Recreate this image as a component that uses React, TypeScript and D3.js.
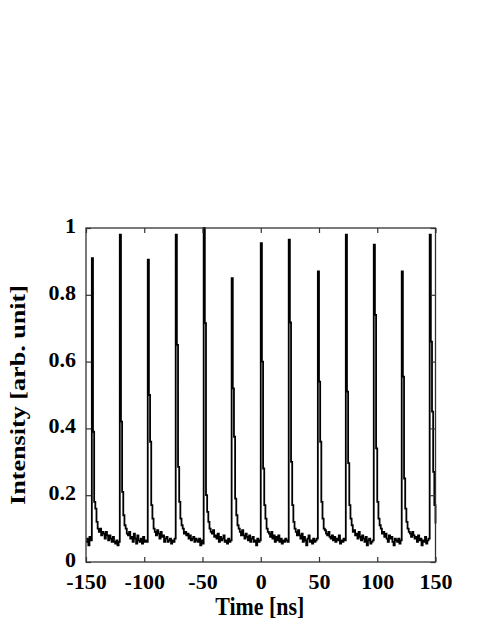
import React, { useEffect, useRef } from "react";
import * as d3 from "d3";

// pulse train (time in ns, intensity in arb. unit)
const xTicks = [-150, -100, -50, 0, 50, 100, 150];
const yTicks = [0, 0.2, 0.4, 0.6, 0.8, 1];

const leadIn = [0.06, 0.07, 0.05, 0.075, 0.065]; // t = -150 .. -146
const peakTimes = [-145, -121, -97, -73, -49, -25, 0, 24, 49, 73, 97, 121, 145];
const peakHeights = [0.91, 0.98, 0.905, 0.98, 1.0, 0.85, 0.955, 0.965, 0.87, 0.98, 0.95, 0.87, 0.98];

// samples after each peak, 1 ns apart, up to the next peak
const decays = [
  [0.39, 0.18, 0.16, 0.12, 0.1, 0.09, 0.1, 0.08, 0.09, 0.085, 0.07, 0.09, 0.08, 0.065, 0.08, 0.07, 0.06, 0.075, 0.06, 0.055, 0.065, 0.05, 0.06],
  [0.42, 0.21, 0.14, 0.11, 0.1, 0.085, 0.08, 0.09, 0.07, 0.075, 0.06, 0.085, 0.07, 0.055, 0.08, 0.065, 0.06, 0.07, 0.055, 0.075, 0.06, 0.065, 0.06],
  [0.5, 0.36, 0.17, 0.13, 0.1, 0.09, 0.08, 0.095, 0.085, 0.07, 0.09, 0.075, 0.08, 0.06, 0.07, 0.075, 0.06, 0.065, 0.07, 0.055, 0.065, 0.06, 0.07],
  [0.65, 0.285, 0.18, 0.13, 0.11, 0.1, 0.085, 0.09, 0.08, 0.085, 0.07, 0.08, 0.065, 0.07, 0.075, 0.06, 0.07, 0.065, 0.06, 0.07, 0.05, 0.065, 0.055],
  [0.715, 0.2, 0.15, 0.12, 0.1, 0.09, 0.085, 0.095, 0.075, 0.08, 0.07, 0.085, 0.06, 0.075, 0.065, 0.07, 0.08, 0.06, 0.065, 0.055, 0.07, 0.06, 0.065],
  [0.52, 0.375, 0.19, 0.14, 0.11, 0.1, 0.09, 0.08, 0.095, 0.08, 0.07, 0.085, 0.075, 0.065, 0.08, 0.06, 0.07, 0.075, 0.06, 0.065, 0.05, 0.07, 0.06, 0.065],
  [0.6, 0.28, 0.17, 0.13, 0.1, 0.09, 0.085, 0.075, 0.09, 0.07, 0.08, 0.06, 0.075, 0.065, 0.08, 0.06, 0.07, 0.055, 0.065, 0.06, 0.07, 0.065, 0.06],
  [0.717, 0.3, 0.17, 0.12, 0.1, 0.09, 0.08, 0.095, 0.08, 0.07, 0.085, 0.06, 0.075, 0.065, 0.05, 0.07, 0.08, 0.06, 0.065, 0.055, 0.07, 0.06, 0.065, 0.07],
  [0.54, 0.36, 0.18, 0.13, 0.1, 0.095, 0.085, 0.08, 0.09, 0.075, 0.07, 0.08, 0.065, 0.075, 0.06, 0.07, 0.065, 0.08, 0.055, 0.065, 0.06, 0.07, 0.065],
  [0.51, 0.296, 0.17, 0.13, 0.11, 0.09, 0.095, 0.08, 0.085, 0.07, 0.09, 0.075, 0.065, 0.08, 0.07, 0.06, 0.075, 0.05, 0.065, 0.07, 0.055, 0.06, 0.065],
  [0.74, 0.34, 0.18, 0.13, 0.11, 0.1, 0.085, 0.09, 0.075, 0.085, 0.07, 0.06, 0.08, 0.07, 0.075, 0.06, 0.05, 0.07, 0.065, 0.06, 0.07, 0.055, 0.065],
  [0.555, 0.25, 0.16, 0.12, 0.1, 0.09, 0.085, 0.075, 0.09, 0.08, 0.07, 0.075, 0.06, 0.08, 0.065, 0.07, 0.05, 0.065, 0.06, 0.075, 0.055, 0.065, 0.07],
  [0.66, 0.45, 0.27, 0.17, 0.115],
];

const FONT = '"Liberation Serif", "Times New Roman", serif';

export default function App() {
  const ref = useRef(null);

  useEffect(() => {
    const svg = d3.select(ref.current);
    svg.selectAll("*").remove();

    const margin = { top: 228, right: 50, bottom: 65, left: 86 };
    const width = 485;
    const height = 627;

    const x = d3.scaleLinear().domain([-150, 150]).range([margin.left, width - margin.right + 0.5]);
    const y = d3.scaleLinear().domain([0, 1]).range([height - margin.bottom, margin.top]);

    // assemble trace
    const pts = [];
    leadIn.forEach((v, i) => pts.push([-150 + i, v]));
    peakTimes.forEach((t, k) => {
      pts.push([t, peakHeights[k]]);
      decays[k].forEach((v, j) => pts.push([t + j + 1, v]));
    });

    const line = d3
      .line()
      .curve(d3.curveStepAfter)
      .x((d) => x(d[0]))
      .y((d) => y(d[1]));

    svg
      .append("path")
      .attr("d", line(pts))
      .attr("fill", "none")
      .attr("stroke", "#000")
      .attr("stroke-width", 1.8)
      .attr("stroke-linejoin", "miter");

    const x0 = x(-150), x1 = x(150), y0 = y(0), y1 = y(1);

    const styleAxis = (g) => {
      g.select(".domain").remove();
      g.selectAll(".tick line").attr("stroke", "#333").attr("stroke-width", 1.2);
      g.selectAll("text")
        .attr("font-family", FONT)
        .attr("font-weight", "bold")
        .attr("font-size", 22)
        .attr("fill", "#000");
    };

    svg
      .append("g")
      .attr("transform", `translate(0,${y0})`)
      .call(
        d3.axisBottom(x).tickValues(xTicks).tickFormat((d) => String(d)).tickSizeInner(-5).tickSizeOuter(0).tickPadding(11)
      )
      .call(styleAxis);

    svg
      .append("g")
      .attr("transform", `translate(${x0},0)`)
      .call(
        d3.axisLeft(y).tickValues(yTicks).tickFormat((d) => String(d)).tickSizeInner(-5).tickSizeOuter(0).tickPadding(10)
      )
      .call(styleAxis)
      .call((g) => g.selectAll("text").attr("dy", "0.2em"));

    svg
      .append("g")
      .attr("transform", `translate(0,${y1})`)
      .call(d3.axisTop(x).tickValues(xTicks).tickFormat(() => "").tickSizeInner(-5).tickSizeOuter(0))
      .call(styleAxis);

    svg
      .append("g")
      .attr("transform", `translate(${x1},0)`)
      .call(d3.axisRight(y).tickValues(yTicks).tickFormat(() => "").tickSizeInner(-5).tickSizeOuter(0))
      .call(styleAxis);

    svg
      .append("rect")
      .attr("x", x0)
      .attr("y", y1)
      .attr("width", x1 - x0)
      .attr("height", y0 - y1)
      .attr("fill", "none")
      .attr("stroke", "#333")
      .attr("stroke-width", 1.3);

    svg
      .append("text")
      .attr("x", (x0 + x1) / 2 - 1)
      .attr("y", 615)
      .attr("text-anchor", "middle")
      .attr("font-family", FONT)
      .attr("font-weight", "bold")
      .attr("font-size", 25)
      .attr("textLength", 89)
      .attr("lengthAdjust", "spacingAndGlyphs")
      .text("Time [ns]");

    svg
      .append("text")
      .attr("transform", `translate(25,${(y0 + y1) / 2}) rotate(-90)`)
      .attr("text-anchor", "middle")
      .attr("font-family", FONT)
      .attr("font-weight", "bold")
      .attr("font-size", 20)
      .attr("textLength", 220)
      .attr("lengthAdjust", "spacingAndGlyphs")
      .text("Intensity [arb. unit]");
  }, []);

  return (
    <svg
      ref={ref}
      width={485}
      height={627}
      style={{ position: "absolute", left: 0, top: 0, background: "#fff" }}
    />
  );
}
